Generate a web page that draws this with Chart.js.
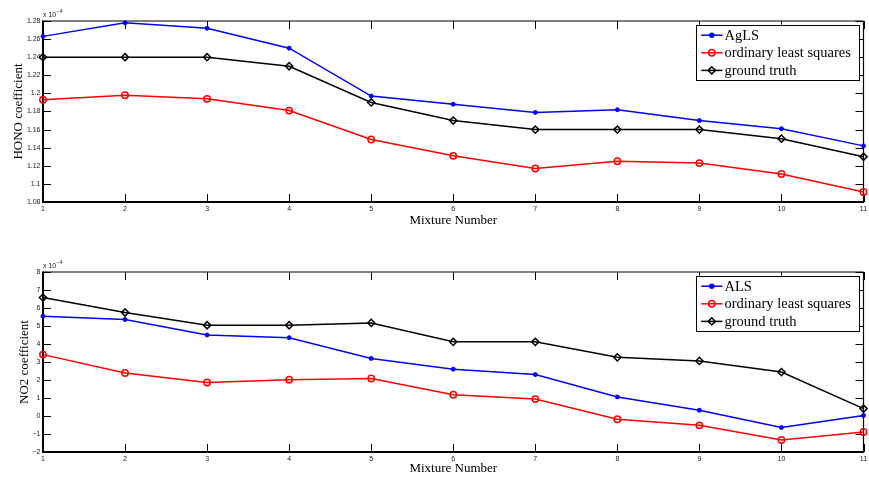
<!DOCTYPE html>
<html><head><meta charset="utf-8">
<script src="https://cdn.jsdelivr.net/npm/chart.js@4.4.1/dist/chart.umd.min.js"></script>
<style>
html,body{margin:0;padding:0;background:#fff;}
#wrap{position:relative;width:869px;height:479px;overflow:hidden;}
.c{position:absolute;left:0;width:869px;}
</style></head><body>
<div id="wrap">
<div class="c" style="top:0;height:240px"><canvas id="topChart"></canvas></div>
<div class="c" style="top:240px;height:239px"><canvas id="botChart"></canvas></div>
</div>
<script>
// ---- data (coefficients in units of 1e-4) ----
const mixtures = ['1','2','3','4','5','6','7','8','9','10','11'];
const honoAgLS  = [1.263,1.278,1.272,1.250,1.197,1.188,1.179,1.182,1.170,1.161,1.142];
const honoOLS   = [1.193,1.198,1.194,1.181,1.149,1.131,1.117,1.125,1.123,1.111,1.091];
const honoTruth = [1.24,1.24,1.24,1.23,1.19,1.17,1.16,1.16,1.16,1.15,1.13];
const no2ALS    = [5.54,5.36,4.50,4.35,3.20,2.60,2.30,1.06,0.32,-0.64,0.03];
const no2OLS    = [3.41,2.39,1.86,2.02,2.08,1.18,0.94,-0.18,-0.52,-1.33,-0.89];
const no2Truth  = [6.58,5.75,5.04,5.04,5.17,4.12,4.12,3.26,3.06,2.44,0.41];
const honoAxis  = {min:1.08, max:1.28, step:0.02};
const no2Axis   = {min:-2, max:8, step:1};
const exponentText = '\u22124';

const SANS = '"Liberation Sans", Arial, sans-serif';
const SERIF = '"Liberation Serif", "Times New Roman", serif';

function fmtTick(v){
  const s = String(parseFloat(Number(v).toFixed(2)));
  return s.replace('-', '\u2212');
}

const matlabAxes = {
  id:'matlabAxes',
  beforeDatasetsDraw(chart){
    const {ctx, chartArea:a, scales:{x,y}} = chart;
    ctx.save();
    ctx.strokeStyle = '#000';
    ctx.lineWidth = 1;
    const L = 8;
    const seg = (x1,y1,x2,y2)=>{ctx.beginPath();ctx.moveTo(x1,y1);ctx.lineTo(x2,y2);ctx.stroke();};
    x.ticks.forEach((t,i)=>{
      const px = Math.round(x.getPixelForTick(i))+0.5;
      seg(px,a.bottom,px,a.bottom-L);
      seg(px,a.top,px,a.top+L);
    });
    y.ticks.forEach((t,i)=>{
      const py = Math.round(y.getPixelForTick(i))+0.5;
      seg(a.left,py,a.left+L,py);
      seg(a.right,py,a.right-L,py);
    });
    ctx.lineWidth = 1.2;
    seg(a.left,a.top,a.right,a.top);
    seg(a.right,a.top,a.right,a.bottom);
    ctx.lineWidth = 2;
    seg(a.left,a.top-0.5,a.left,a.bottom+1);
    seg(a.left-1,a.bottom,a.right+0.6,a.bottom);
    // exponent label
    ctx.fillStyle = '#222';
    ctx.textBaseline = 'alphabetic';
    ctx.textAlign = 'left';
    ctx.font = '7px ' + SANS;
    const base = 'x 10';
    ctx.fillText(base, a.left, a.top-4);
    const w = ctx.measureText(base).width;
    ctx.font = '5px ' + SANS;
    ctx.fillText(exponentText, a.left + w + 0.5, a.top-8);
    ctx.restore();
  }
};

const matlabLegend = {
  id:'matlabLegend',
  afterDatasetsDraw(chart){
    const {ctx, chartArea:a} = chart;
    const bw = 163.3, bh = 54.5;
    const bx = a.right - 167.3, by = a.top + 3.7;
    ctx.save();
    ctx.fillStyle = '#fff';
    ctx.fillRect(bx,by,bw,bh);
    ctx.strokeStyle = '#000';
    ctx.lineWidth = 1;
    ctx.strokeRect(Math.round(bx)+0.5, Math.round(by)+0.5, Math.round(bw), Math.round(bh));
    chart.data.datasets.forEach((ds,i)=>{
      const cy = by + 10.5 + i*17.6;
      ctx.strokeStyle = ds.borderColor;
      ctx.lineWidth = 1.5;
      ctx.beginPath(); ctx.moveTo(bx+5, cy); ctx.lineTo(bx+26.3, cy); ctx.stroke();
      ctx.fillStyle = ds.pointBackgroundColor;
      ctx.strokeStyle = ds.borderColor;
      Chart.helpers.drawPoint(ctx, {pointStyle: ds.pointStyle, radius: ds.pointRadius, borderWidth: ds.pointBorderWidth, rotation:0}, bx+15.6, cy);
      ctx.fillStyle = '#000';
      ctx.font = '14.5px ' + SERIF;
      ctx.textBaseline = 'middle';
      ctx.textAlign = 'left';
      ctx.fillText(ds.label, bx+28.3, cy+0.5);
    });
    ctx.restore();
  }
};

function makeSeries(label, data, color, kind){
  const base = {label, data, borderColor:color, borderWidth:1.5, tension:0, clip:false};
  if(kind==='dot') return Object.assign(base,{pointStyle:'circle', pointRadius:2, pointBackgroundColor:color, pointBorderColor:color, pointBorderWidth:1});
  if(kind==='circle') return Object.assign(base,{pointStyle:'circle', pointRadius:3.2, pointBackgroundColor:'rgba(0,0,0,0)', pointBorderColor:color, pointBorderWidth:1.5});
  return Object.assign(base,{pointStyle:'rectRot', pointRadius:3.6, pointBackgroundColor:'rgba(0,0,0,0)', pointBorderColor:color, pointBorderWidth:1.5});
}

function makeChart(canvasId, cfg){
  return new Chart(document.getElementById(canvasId), {
    type:'line',
    data:{labels:mixtures, datasets:cfg.datasets},
    plugins:[matlabAxes, matlabLegend],
    options:{
      responsive:true, maintainAspectRatio:false, animation:false, devicePixelRatio:1,
      layout:{padding:{top:cfg.padTop, right:4, left:0, bottom:0}},
      plugins:{legend:{display:false}, tooltip:{enabled:false}},
      scales:{
        x:{
          type:'category', offset:false,
          grid:{display:false, drawTicks:false}, border:{display:false},
          ticks:{font:{family:SANS, size:7}, color:'#222', padding:3, maxRotation:0, autoSkip:false},
          title:{display:true, text:'Mixture Number', color:'#000', font:{family:SERIF, size:13, lineHeight:1.2}, padding:{top:0, bottom:cfg.xTitlePad}},
          afterFit(s){ s.height = cfg.xHeight; s.paddingLeft = 0; s.paddingRight = 0; }
        },
        y:{
          min:cfg.axis.min, max:cfg.axis.max,
          grid:{display:false, drawTicks:false}, border:{display:false},
          ticks:{stepSize:cfg.axis.step, font:{family:SANS, size:7}, color:'#222', padding:2.5, callback:(v)=>fmtTick(v)},
          title:{display:true, text:cfg.yTitle, color:'#000', font:{family:SERIF, size:13, lineHeight:1.2}, padding:{top:cfg.yTitlePad, bottom:0}},
          afterFit(s){ s.width = 43; s.paddingTop = 0; s.paddingBottom = 0; }
        }
      }
    }
  });
}

makeChart('topChart', {
  datasets:[
    makeSeries('AgLS', honoAgLS, '#0000ff', 'dot'),
    makeSeries('ordinary least squares', honoOLS, '#ff0000', 'circle'),
    makeSeries('ground truth', honoTruth, '#000000', 'diamond')
  ],
  axis:honoAxis, yTitle:'HONO coefficient', padTop:21, xHeight:38, xTitlePad:12, yTitlePad:10.7
});
makeChart('botChart', {
  datasets:[
    makeSeries('ALS', no2ALS, '#0000ff', 'dot'),
    makeSeries('ordinary least squares', no2OLS, '#ff0000', 'circle'),
    makeSeries('ground truth', no2Truth, '#000000', 'diamond')
  ],
  axis:no2Axis, yTitle:'NO2 coefficient', padTop:32, xHeight:27, xTitlePad:2.2, yTitlePad:17
});
</script>
</body></html>
